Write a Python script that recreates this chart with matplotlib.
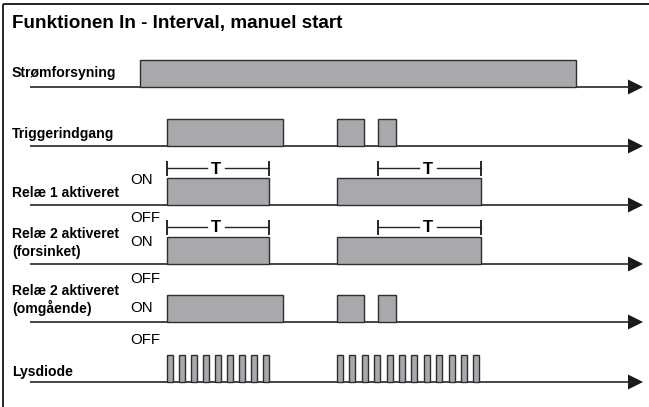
import matplotlib
matplotlib.use("Agg")
import matplotlib.pyplot as plt
from matplotlib.patches import Rectangle, Polygon

plt.rcParams['font.family'] = ['Liberation Sans', 'DejaVu Sans']

# ---------------- data ----------------
title = "Funktionen In - Interval, manuel start"

row_labels = ["Strømforsyning", "Triggerindgang", "Relæ 1 aktiveret",
              "Relæ 2 aktiveret\n(forsinket)", "Relæ 2 aktiveret\n(omgående)", "Lysdiode"]

# pulses per row: (start, end) on the time axis
power_pulses = [(140, 576)]
trigger_pulses = [(167, 283), (337, 364), (378, 396)]
relay1_pulses = [(167, 269), (337, 481)]
relay2_delayed_pulses = [(167, 269), (337, 481)]
relay2_instant_pulses = [(167, 283), (337, 364), (378, 396)]
led_starts = [167, 179, 191, 203, 215, 227, 239, 251, 263,
              337, 349, 362, 374, 387, 399, 411, 424, 436, 449, 461, 473]
led_width = 6

# interval T markers: (row index, start, end)
t_markers = [(2, 167, 269), (2, 378, 481), (3, 167, 269), (3, 378, 481)]

# ---------------- layout ----------------
W, H = 649, 407
baselines = [87, 146, 205, 264, 322, 382]
pulse_h = 27
line_x0, arrow_tip = 30, 643

fill_c = "#a7a9ac"
edge_c = "#2e2e2e"
line_c = "#262626"

fig = plt.figure(figsize=(W / 100, H / 100), dpi=100)
ax = fig.add_axes([0, 0, 1, 1])
ax.set_xlim(0, W)
ax.set_ylim(H, 0)
ax.axis("off")

# frame (top and left)
ax.plot([3, W], [4, 4], color=line_c, lw=1.4, solid_capstyle="butt")
ax.plot([3, 3], [4, H], color=line_c, lw=1.4, solid_capstyle="butt")

ax.text(12, 28, title, fontsize=13.6, fontweight="bold", ha="left", va="baseline")

# baselines with arrows
for y in baselines:
    ax.plot([line_x0, arrow_tip - 10], [y, y], color=line_c, lw=1.2, solid_capstyle="butt")
    ax.add_patch(Polygon([[arrow_tip - 15, y - 7.5], [arrow_tip, y], [arrow_tip - 15, y + 7.5]],
                         closed=True, facecolor="#1a1a1a", edgecolor="none"))


def draw_pulses(pulses, y):
    for (s, e) in pulses:
        ax.add_patch(Rectangle((s, y - pulse_h), e - s, pulse_h, facecolor=fill_c,
                               edgecolor=edge_c, lw=1.0, zorder=3))


all_pulses = [power_pulses, trigger_pulses, relay1_pulses,
              relay2_delayed_pulses, relay2_instant_pulses]
for pulses, y in zip(all_pulses, baselines[:5]):
    draw_pulses(pulses, y)
draw_pulses([(s, s + led_width) for s in led_starts], baselines[5])

# T markers
for (r, s, e) in t_markers:
    y = baselines[r] - pulse_h - 10
    mid = (s + e) / 2 - 2
    gap = 9
    ax.plot([s, mid - gap], [y, y], color=line_c, lw=1.0)
    ax.plot([mid + gap, e], [y, y], color=line_c, lw=1.0)
    ax.plot([s, s], [y - 6.5, y + 6.5], color=line_c, lw=1.4)
    ax.plot([e, e], [y - 6.5, y + 6.5], color=line_c, lw=1.4)
    ax.text(mid, y + 5.5, "T", fontsize=12, fontweight="bold", ha="center", va="baseline")

# row labels
lab_fs = 10.1
ax.text(12, 77, "Strømforsyning", fontsize=lab_fs, fontweight="bold", va="baseline")
ax.text(12, 138, "Triggerindgang", fontsize=lab_fs, fontweight="bold", va="baseline")
ax.text(12, 197, "Relæ 1 aktiveret", fontsize=lab_fs, fontweight="bold", va="baseline")
ax.text(12, 238, "Relæ 2 aktiveret", fontsize=lab_fs, fontweight="bold", va="baseline")
ax.text(12, 256, "(forsinket)", fontsize=lab_fs, fontweight="bold", va="baseline")
ax.text(12, 295, "Relæ 2 aktiveret", fontsize=lab_fs, fontweight="bold", va="baseline")
ax.text(12, 313, "(omgående)", fontsize=lab_fs, fontweight="bold", va="baseline")
ax.text(12, 376, "Lysdiode", fontsize=lab_fs, fontweight="bold", va="baseline")

# ON / OFF labels
st_fs = 10.8
for (txt, yb) in [("ON", 184), ("OFF", 222), ("ON", 246), ("OFF", 283), ("ON", 312), ("OFF", 344)]:
    ax.text(130, yb, txt, fontsize=st_fs, ha="left", va="baseline")

fig.savefig("out.png", dpi=100)
